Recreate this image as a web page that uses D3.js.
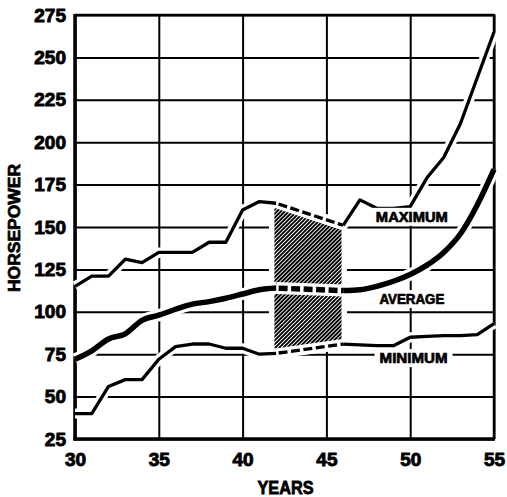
<!DOCTYPE html>
<html>
<head>
<meta charset="utf-8">
<script src="https://cdn.jsdelivr.net/npm/d3@7/dist/d3.min.js"></script>
<style>
  html, body { margin: 0; padding: 0; background: #fff; }
  svg { display: block; }
  text { font-family: "Liberation Sans", Arial, sans-serif; font-weight: bold; fill: #000; }
</style>
</head>
<body>
<script>
// ---- data ----
const years = [30,31,32,33,34,35,36,37,38,39,40,41,42,43,44,45,46,47,48,49,50,51,52,53,54,55];
const maximum = [115,121,121,131,129,135,135,135,141,141,160,165,164,null,null,null,151,166,161,161,162,179,191,211,238,265];
const average = [72,77,84,87,95,98,101.5,104.5,106,108,110.5,113,114,null,null,null,112.5,113,115,118,122,127.5,135,146,163,184];
const minimum = [40,40,56,60,60,72,79.5,81,81,78.5,78.5,75,75.5,null,null,null,81,80.5,80,80,85,85.5,86,86,86.5,93];
const xTicks = [30,35,40,45,50,55];
const yTicks = [25,50,75,100,125,150,175,200,225,250,275];
const hatchYears = [41.9, 45.9];
const seriesLabels = ["MAXIMUM","AVERAGE","MINIMUM"];
const labelYears = [50.1, 50.1, 50.2];
const labelValues = [156, 107.5, 72.7];
const labelWidths = [72, 65, 68];

const W = 507, H = 497;
const svg = d3.select("body").append("svg").attr("width", W).attr("height", H);

const x = d3.scaleLinear().domain([30,55]).range([75,494]);
const y = d3.scaleLinear().domain([25,275]).range([439,15]);

// ---- gridlines via axes ----
const gy = svg.append("g").attr("transform", `translate(${x(30)},0)`)
  .call(d3.axisLeft(y).tickValues(yTicks).tickSize(-(x(55)-x(30))).tickPadding(9));
gy.select(".domain").remove();
gy.selectAll(".tick line").attr("stroke","#000").attr("stroke-width",2);
gy.selectAll(".tick text").style("font-size","19px").attr("stroke","#000").attr("stroke-width",0.9);

const gx = svg.append("g").attr("transform", `translate(0,${y(25)})`)
  .call(d3.axisBottom(x).tickValues(xTicks).tickSize(-(y(25)-y(275))).tickPadding(14));
gx.select(".domain").remove();
gx.selectAll(".tick line").attr("stroke","#000").attr("stroke-width",2);
gx.selectAll(".tick text").style("font-size","19px").attr("stroke","#000").attr("stroke-width",0.9);

// frame
svg.append("line").attr("x1",x(30)).attr("x2",x(30)).attr("y1",y(275)-1).attr("y2",y(25)+1.5).attr("stroke","#000").attr("stroke-width",3.5);
svg.append("line").attr("x1",x(30)-1.5).attr("x2",x(55)+1).attr("y1",y(25)).attr("y2",y(25)).attr("stroke","#000").attr("stroke-width",3.5);
svg.append("line").attr("x1",x(55)).attr("x2",x(55)).attr("y1",y(275)-1).attr("y2",y(25)).attr("stroke","#000").attr("stroke-width",2.5);
svg.append("line").attr("x1",x(30)).attr("x2",x(55)).attr("y1",y(275)).attr("y2",y(275)).attr("stroke","#000").attr("stroke-width",2.5);

// ---- helpers ----
function pts(vals){ return years.map((yr,i)=>({yr, v: vals[i]})); }
function interp(vals, yr){
  const d = pts(vals).filter(p=>p.v!=null);
  for (let i=0;i<d.length-1;i++){
    if (yr>=d[i].yr && yr<=d[i+1].yr){
      const t=(yr-d[i].yr)/(d[i+1].yr-d[i].yr);
      return d[i].v + t*(d[i+1].v-d[i].v);
    }
  }
  return d[d.length-1].v;
}
function gapEnds(vals){
  const d = pts(vals);
  let a=null,b=null;
  for (let i=1;i<d.length;i++){
    if (d[i].v==null && d[i-1].v!=null) a=d[i-1];
    if (d[i].v!=null && d[i-1].v==null) b=d[i];
  }
  return [a,b];
}

// ---- label boxes (white, break gridlines) ----
const labG = svg.append("g");
seriesLabels.forEach((t,i)=>{
  const cx = x(labelYears[i]), cy = y(labelValues[i]);
  labG.append("rect").attr("x",cx-labelWidths[i]/2-5).attr("y",cy-9).attr("width",labelWidths[i]+10).attr("height",18).attr("fill","#fff");
});

// ---- hatch ----
const defs = svg.append("defs");
const pat = defs.append("pattern").attr("id","hatch").attr("patternUnits","userSpaceOnUse")
  .attr("width",2.8).attr("height",10).attr("patternTransform","rotate(45)");
pat.append("rect").attr("x",0).attr("y",0).attr("width",1.9).attr("height",10).attr("fill","#000");

const h0 = hatchYears[0], h1 = hatchYears[1];
const hatchPoly = [
  [x(h0), y(interp(maximum,h0))],
  [x(h1), y(interp(maximum,h1))],
  [x(h1), y(interp(minimum,h1))],
  [x(h0), y(interp(minimum,h0))]
];
svg.append("polygon").attr("points", hatchPoly.map(p=>p.join(",")).join(" "))
  .attr("fill","#fff").attr("stroke","#fff").attr("stroke-width",11).attr("stroke-linejoin","round");
svg.append("polygon").attr("points", hatchPoly.map(p=>p.join(",")).join(" "))
  .attr("fill","url(#hatch)");

// ---- lines ----
const series = [
  {vals: maximum, w: 3.3, halo: 10, curve: d3.curveLinear},
  {vals: average, w: 5.5, halo: 12, curve: d3.curveMonotoneX},
  {vals: minimum, w: 3.3, halo: 10, curve: d3.curveLinear}
];
const lineGen = c => d3.line().defined(d=>d.v!=null).x(d=>x(d.yr)).y(d=>y(d.v)).curve(c);

series.forEach(s=>{
  const [a,b] = gapEnds(s.vals);
  svg.append("path").attr("d", lineGen(s.curve)(pts(s.vals))).attr("fill","none")
    .attr("stroke","#fff").attr("stroke-width",s.halo).attr("stroke-linejoin","round");
  svg.append("line").attr("x1",x(a.yr)).attr("y1",y(a.v)).attr("x2",x(b.yr)).attr("y2",y(b.v))
    .attr("stroke","#fff").attr("stroke-width",s.halo);
});
series.forEach(s=>{
  const [a,b] = gapEnds(s.vals);
  svg.append("path").attr("d", lineGen(s.curve)(pts(s.vals))).attr("fill","none")
    .attr("stroke","#000").attr("stroke-width",s.w).attr("stroke-linejoin","round");
  svg.append("line").attr("x1",x(a.yr)).attr("y1",y(a.v)).attr("x2",x(b.yr)).attr("y2",y(b.v))
    .attr("stroke","#000").attr("stroke-width",s.w)
    .attr("stroke-dasharray","9,3.5").attr("stroke-dashoffset",-2.5);
});

// ---- labels ----
seriesLabels.forEach((t,i)=>{
  labG.append("text").attr("x",x(labelYears[i])).attr("y",y(labelValues[i])).attr("dy","0.36em")
    .attr("text-anchor","middle").style("font-size","14px")
    .attr("stroke","#000").attr("stroke-width",0.7)
    .attr("textLength",labelWidths[i]).attr("lengthAdjust","spacingAndGlyphs").text(t);
});
labG.raise();

// axis titles
svg.append("text").attr("x",(x(30)+x(55))/2+1).attr("y",487).attr("dy","0.36em")
  .attr("text-anchor","middle").style("font-size","19px")
  .attr("stroke","#000").attr("stroke-width",0.8)
  .attr("textLength",56).attr("lengthAdjust","spacingAndGlyphs").text("YEARS");
svg.append("text").attr("transform","translate(14,228) rotate(-90)").attr("dy","0.36em")
  .attr("text-anchor","middle").style("font-size","16px")
  .attr("stroke","#000").attr("stroke-width",0.7)
  .attr("textLength",128).attr("lengthAdjust","spacingAndGlyphs").text("HORSEPOWER");
</script>
</body>
</html>
